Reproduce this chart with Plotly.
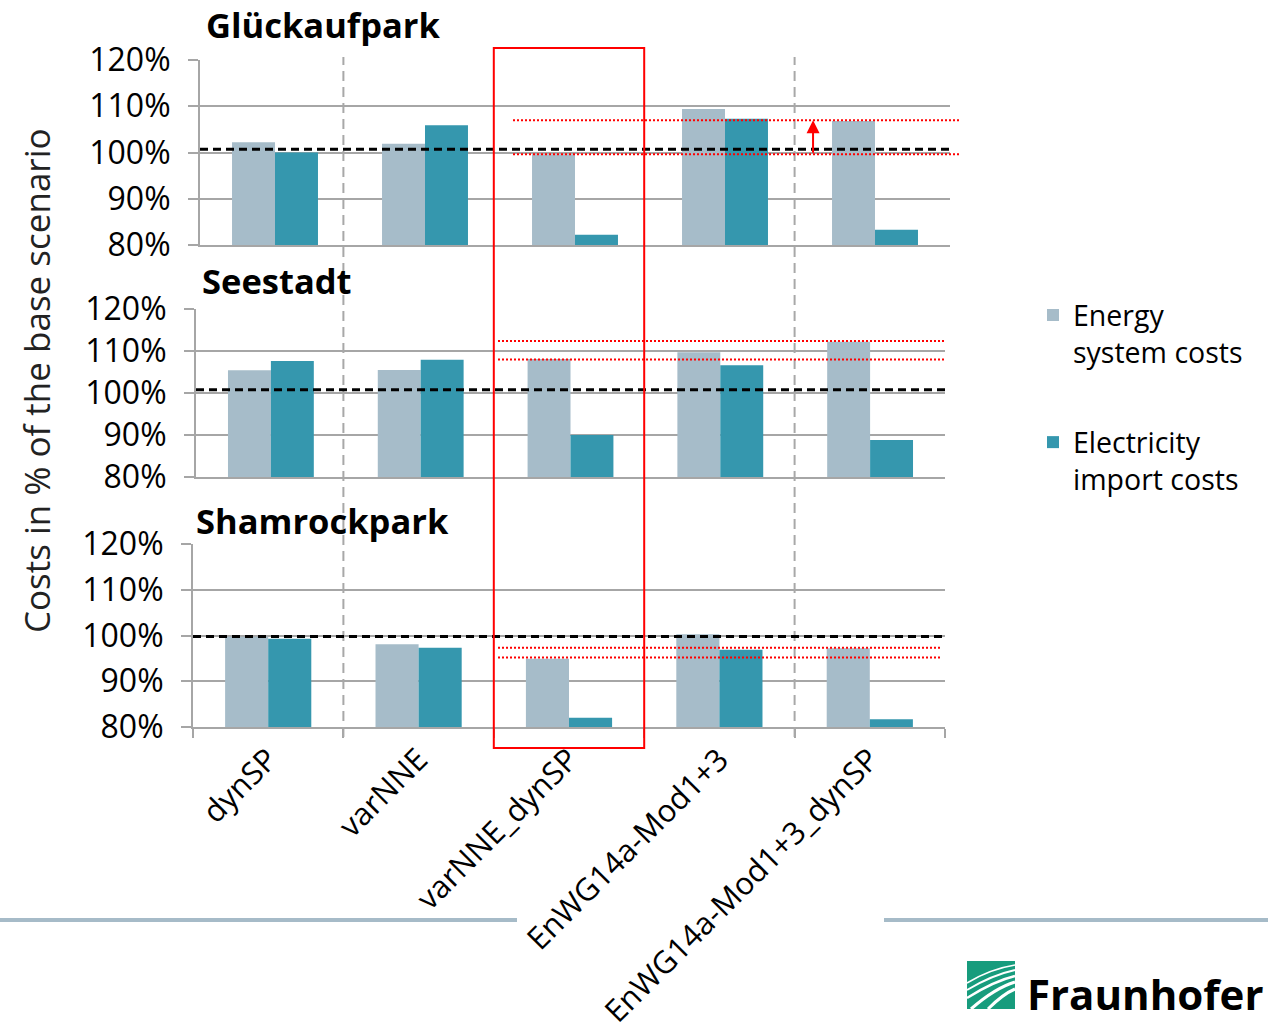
import plotly.graph_objects as go

# ---------------- data ----------------
categories = ["dynSP", "varNNE", "varNNE_dynSP", "EnWG14a-Mod1+3", "EnWG14a-Mod1+3_dynSP"]
panel_titles = ["Glückaufpark", "Seestadt", "Shamrockpark"]

glueck_energy = [102.2, 101.9, 99.6, 109.4, 106.8]
glueck_import = [100.0, 105.9, 82.2, 107.3, 83.3]
see_energy = [105.4, 105.5, 108.1, 109.7, 112.2]
see_import = [107.6, 107.9, 90.0, 106.6, 88.8]
sham_energy = [99.7, 98.1, 94.9, 100.3, 97.2]
sham_import = [99.3, 97.3, 82.0, 96.9, 81.7]

base_levels = [100.7, 100.8, 99.8]            # black dashed reference lines
red_levels = [[107.0, 99.6], [112.4, 108.0], [97.3, 95.2]]  # red dotted lines
arrow_from_to = [99.6, 107.0]                  # red arrow in first panel

y_tickvals = [80, 90, 100, 110, 120]
y_ticktext = ["80%", "90%", "100%", "110%", "120%"]

series_names = ["Energy<br>system costs", "Electricity<br>import costs"]
energy_color = "#A6BCC9"
import_color = "#3597AE"

# ---------------- layout helpers ----------------
W, H = 1268, 1023
def px(x):
    return x / W
def py(y):
    return 1 - y / H

FONT = "Open Sans"
GRID = "#A6A6A6"

panels = [
    dict(energy=glueck_energy, imp=glueck_import, x=(200, 950), y=(60, 245)),
    dict(energy=see_energy, imp=see_import, x=(196, 945), y=(309, 477)),
    dict(energy=sham_energy, imp=sham_import, x=(193, 945), y=(544, 727)),
]

fig = go.Figure()

for i, p in enumerate(panels):
    sfx = "" if i == 0 else str(i + 1)
    fig.add_trace(go.Bar(x=categories, y=p["energy"], name=series_names[0],
                         marker=dict(color=energy_color, line=dict(width=0)),
                         xaxis="x" + sfx, yaxis="y" + sfx, showlegend=(i == 0),
                         legendgroup="e", offsetgroup="e"))
    fig.add_trace(go.Bar(x=categories, y=p["imp"], name=series_names[1],
                         marker=dict(color=import_color, line=dict(width=0)),
                         xaxis="x" + sfx, yaxis="y" + sfx, showlegend=(i == 0),
                         legendgroup="i", offsetgroup="i"))

layout = dict(
    width=W, height=H,
    margin=dict(l=0, r=0, t=0, b=0, autoexpand=False),
    paper_bgcolor="white", plot_bgcolor="white",
    barmode="group", bargap=0.427, bargroupgap=0,
    font=dict(family=FONT, color="#000000"),
    legend=dict(x=px(1033), y=py(290), xanchor="left", yanchor="top",
                font=dict(size=28.5, family=FONT, color="#000000"),
                valign="top", tracegroupgap=50, bgcolor="rgba(0,0,0,0)",
                itemclick=False),
)

for i, p in enumerate(panels):
    sfx = "" if i == 0 else str(i + 1)
    last = (i == len(panels) - 1)
    layout["xaxis" + sfx] = dict(
        domain=[px(p["x"][0]), px(p["x"][1])], anchor="y" + sfx,
        type="category", range=[-0.5, 4.5],
        showline=True, linecolor=GRID, linewidth=2,
        showgrid=False, showticklabels=last,
        ticks="outside" if last else "", tickson="boundaries",
        ticklen=9, tickwidth=2, tickcolor=GRID,
        tickangle=-45, tickfont=dict(size=31, family=FONT, color="#000000"),
        fixedrange=True, automargin=False,
    )
    layout["yaxis" + sfx] = dict(
        domain=[py(p["y"][1]), py(p["y"][0])], anchor="x" + sfx,
        range=[80, 120], tickvals=y_tickvals, ticktext=y_ticktext,
        showline=True, linecolor=GRID, linewidth=2,
        showgrid=True, gridcolor=GRID, gridwidth=2, zeroline=False,
        ticks="outside", ticklen=10, tickwidth=2, tickcolor=GRID,
        ticklabelstandoff=11,
        tickfont=dict(size=32, family=FONT, color="#000000"),
        fixedrange=True, automargin=False,
    )

fig.update_layout(**layout)

shapes = []
annotations = []

# gray dashed separators (category boundaries)
for xs in [0.5, 3.5]:
    shapes.append(dict(type="line", xref="x3", yref="paper", x0=xs, x1=xs,
                       y0=py(737), y1=py(57),
                       line=dict(color="#A8A8A8", width=2, dash="10px,6px"), layer="above"))

# reference lines per panel
red_extent = [(513, 960), (498, 945), (498, 940)]
for i, p in enumerate(panels):
    sfx = "" if i == 0 else str(i + 1)
    x0p, x1p = p["x"]
    wdt = x1p - x0p
    shapes.append(dict(type="line", xref="x%s domain" % sfx, yref="y" + sfx,
                       x0=0, x1=1, y0=base_levels[i], y1=base_levels[i],
                       line=dict(color="black", width=3, dash="8px,5px"), layer="above"))
    rx0 = (red_extent[i][0] - x0p) / wdt
    rx1 = (red_extent[i][1] - x0p) / wdt
    for lv in red_levels[i]:
        shapes.append(dict(type="line", xref="x%s domain" % sfx, yref="y" + sfx,
                           x0=rx0, x1=rx1, y0=lv, y1=lv,
                           line=dict(color="#FF0000", width=2, dash="2px,2px"), layer="above"))

# red highlight box
shapes.append(dict(type="rect", xref="x3", yref="paper", x0=1.5, x1=2.5,
                   y0=py(748), y1=py(48), line=dict(color="#FF0000", width=2),
                   fillcolor="rgba(0,0,0,0)", layer="above"))

# decorative footer lines
shapes.append(dict(type="line", xref="paper", yref="paper", x0=0, x1=px(517),
                   y0=py(920), y1=py(920), line=dict(color="#A6BBC8", width=4)))
shapes.append(dict(type="line", xref="paper", yref="paper", x0=px(884), x1=1,
                   y0=py(920), y1=py(920), line=dict(color="#A6BBC8", width=4)))

# Fraunhofer logo (decorative)
shapes.append(dict(type="rect", xref="paper", yref="paper", x0=px(967), x1=px(1015),
                   y0=py(1009), y1=py(961), fillcolor="#179C7D", line=dict(width=0)))
curves = [((967, 983), (990, 969), (1015, 965), 1.5),
          ((967, 990), (992, 975), (1015, 970), 2),
          ((967, 998), (994, 981), (1015, 976), 2.5),
          ((971, 1009), (995, 988), (1015, 982), 3),
          ((988, 1009), (1003, 994), (1015, 989), 3)]
for (a, c, b, w) in curves:
    path = "M %f,%f Q %f,%f %f,%f" % (px(a[0]), py(a[1]), px(c[0]), py(c[1]), px(b[0]), py(b[1]))
    shapes.append(dict(type="path", xref="paper", yref="paper", path=path,
                       line=dict(color="white", width=w)))

fig.update_layout(shapes=shapes)

# panel titles
title_pos = [(204, 25), (200, 280), (194, 520)]
for t, (tx, ty) in zip(panel_titles, title_pos):
    annotations.append(dict(text="<b>%s</b>" % t, xref="paper", yref="paper",
                            x=px(tx), y=py(ty), xanchor="left", yanchor="middle",
                            showarrow=False, font=dict(size=34.5, family=FONT, color="#000000")))

# y-axis title
annotations.append(dict(text="Costs in % of the base scenario", xref="paper", yref="paper",
                        x=px(36), y=py(381), textangle=-90, xanchor="center", yanchor="middle",
                        showarrow=False, font=dict(size=35, family=FONT, color="#222222")))

# red arrow in first panel
annotations.append(dict(x=3.587, y=arrow_from_to[1], ax=3.587, ay=arrow_from_to[0],
                        xref="x", yref="y", axref="x", ayref="y", text="",
                        showarrow=True, arrowhead=2, arrowsize=1.3, arrowwidth=2,
                        arrowcolor="#FF0000"))

# logo text
annotations.append(dict(text="<b>Fraunhofer</b>", xref="paper", yref="paper",
                        x=px(1025), y=py(993), xanchor="left", yanchor="middle",
                        showarrow=False, font=dict(size=42, family=FONT, color="#000000")))

fig.update_layout(annotations=annotations)

fig.write_html("out.html", config={"displayModeBar": False, "staticPlot": False},
               post_script="document.body.style.margin='0px';document.body.style.overflow='hidden';")
